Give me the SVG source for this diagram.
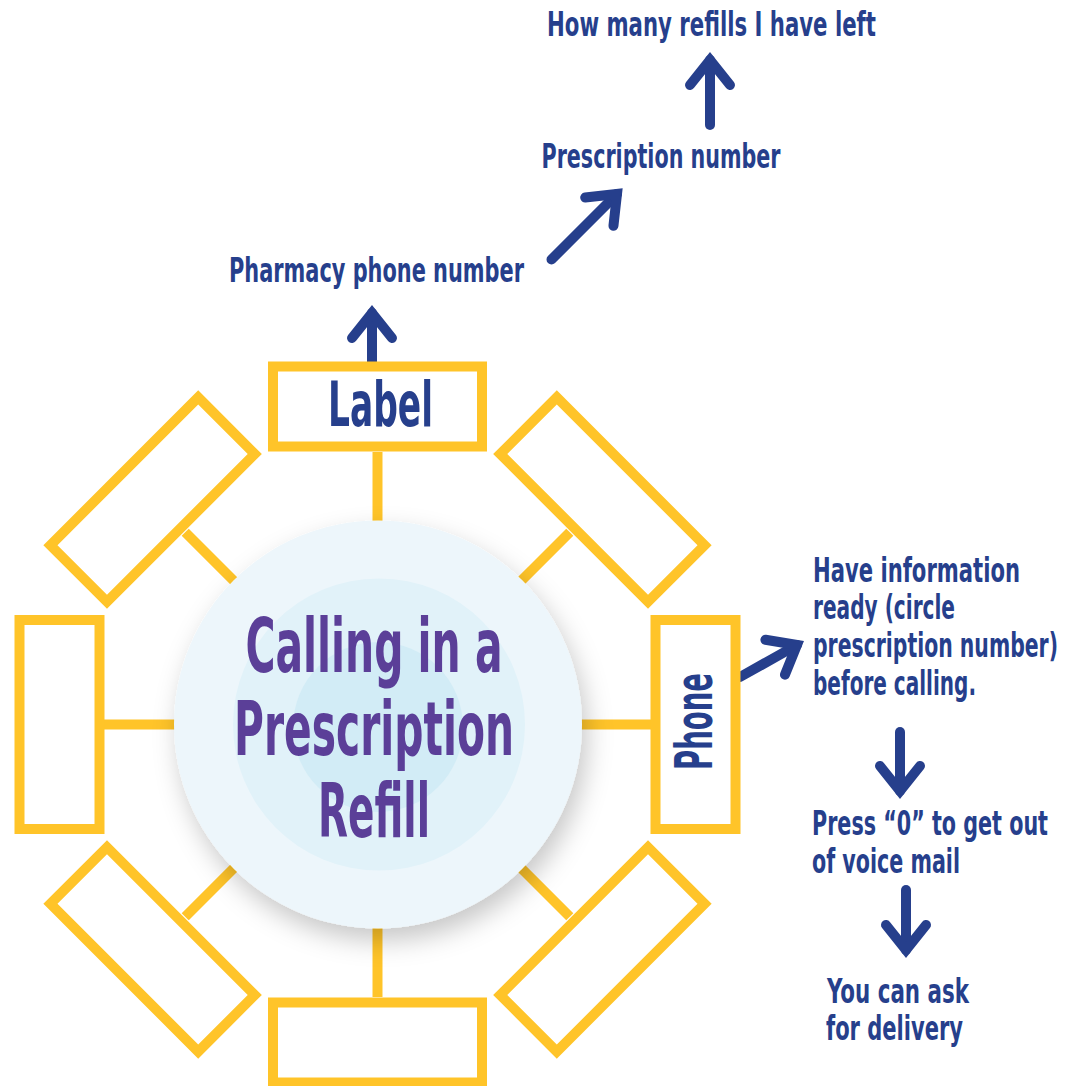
<svg xmlns="http://www.w3.org/2000/svg" width="1078" height="1086" viewBox="0 0 1078 1086">
  <style>
    .box { fill: #FFFFFF; stroke: #FFC429; stroke-width: 10; }
    .spoke { stroke: #FFC429; stroke-width: 10; fill: none; }
    .arrow { stroke: #263F8C; stroke-width: 10; fill: none; stroke-linecap: round; marker-end: url(#head); }
    .t { font-family: "Liberation Sans Narrow", "DejaVu Sans Condensed", "Liberation Sans", sans-serif; font-weight: bold; fill: #263F8C; }
    .blue { font-size: 34px; }
    .small { font-size: 24px; }
    .title { font-family: "Liberation Sans Narrow", "DejaVu Sans Condensed", "Liberation Sans", sans-serif; font-weight: bold; fill: #5B3F98; font-size: 74px; text-anchor: middle; }
  </style>
  <defs>
    <marker id="head" markerUnits="userSpaceOnUse" viewBox="-40 -30 50 60" markerWidth="50" markerHeight="60" refX="0" refY="0" orient="auto" overflow="visible">
      <path d="M -25,-20 L 0,0 L -25,20" fill="none" stroke="#263F8C" stroke-width="10" stroke-linecap="round" stroke-linejoin="miter"/>
    </marker>
    <filter id="shadow" x="-20%" y="-20%" width="150%" height="150%">
      <feDropShadow dx="5" dy="12" stdDeviation="13" flood-color="#000000" flood-opacity="0.22"/>
    </filter>
  </defs>

  <g id="connectors">
    <line class="spoke" x1="377.5" y1="530" x2="377.5" y2="452"/>
    <line class="spoke" x1="377.5" y1="919" x2="377.5" y2="997"/>
    <line class="spoke" x1="183" y1="724.5" x2="104" y2="724.5"/>
    <line class="spoke" x1="572" y1="724.5" x2="651" y2="724.5"/>
    <line class="spoke" x1="240" y1="587" x2="185.2" y2="532.2"/>
    <line class="spoke" x1="515" y1="587" x2="569.8" y2="532.2"/>
    <line class="spoke" x1="240" y1="862" x2="185.2" y2="916.8"/>
    <line class="spoke" x1="515" y1="862" x2="569.8" y2="916.8"/>
    <path class="arrow" d="M 372,362 L 372,313"/>
    <path class="arrow" d="M 551.5,259.5 L 617,194"/>
    <path class="arrow" d="M 710,125 L 710,60"/>
    <path class="arrow" d="M 740,677 L 797,645"/>
    <path class="arrow" d="M 900,732 L 900,791"/>
    <path class="arrow" d="M 906,890 L 906,950"/>
  </g>

  <g id="node-center">
    <circle cx="378" cy="724.5" r="204" fill="#EDF6FB" filter="url(#shadow)"/>
    <circle cx="379" cy="724.5" r="146" fill="#E1F2F9"/>
    <circle cx="378" cy="727" r="85" fill="#D2ECF6"/>
    <text class="title" x="374" y="672" textLength="257" lengthAdjust="spacingAndGlyphs">Calling in a</text>
    <text class="title" x="374" y="755" textLength="280" lengthAdjust="spacingAndGlyphs">Prescription</text>
    <text class="title" x="374" y="837" textLength="112" lengthAdjust="spacingAndGlyphs">Refill</text>
  </g>

  <g id="node-label" transform="translate(377.5,406.5)">
    <rect class="box" x="-104.5" y="-40" width="209" height="80"/>
    <text class="t" x="3" y="19.5" font-size="62" text-anchor="middle" textLength="105" lengthAdjust="spacingAndGlyphs">Label</text>
  </g>
  <g id="node-bottom" transform="translate(377.5,1042.5)">
    <rect class="box" x="-104.5" y="-40" width="209" height="80"/>
  </g>
  <g id="node-left" transform="translate(59.5,724.5) rotate(90)">
    <rect class="box" x="-104.5" y="-40" width="209" height="80"/>
  </g>
  <g id="node-phone" transform="translate(695.5,724.5) rotate(-90)">
    <rect class="box" x="-104.5" y="-40" width="209" height="80"/>
    <text class="t" x="3" y="16" font-size="52" text-anchor="middle" textLength="97" lengthAdjust="spacingAndGlyphs">Phone</text>
  </g>
  <g id="node-upper-left" transform="translate(152.6,499.6) rotate(-45)">
    <rect class="box" x="-104.5" y="-40" width="209" height="80"/>
  </g>
  <g id="node-upper-right" transform="translate(602.4,499.6) rotate(45)">
    <rect class="box" x="-104.5" y="-40" width="209" height="80"/>
  </g>
  <g id="node-lower-left" transform="translate(152.6,949.4) rotate(45)">
    <rect class="box" x="-104.5" y="-40" width="209" height="80"/>
  </g>
  <g id="node-lower-right" transform="translate(602.4,949.4) rotate(-45)">
    <rect class="box" x="-104.5" y="-40" width="209" height="80"/>
  </g>

  <g id="node-pharmacy">
    <text class="t blue" x="229" y="282" textLength="295" lengthAdjust="spacingAndGlyphs">Pharmacy phone number</text>
  </g>
  <g id="node-prescription">
    <text class="t blue" x="541.5" y="168" textLength="239" lengthAdjust="spacingAndGlyphs">Prescription number</text>
  </g>
  <g id="node-refills">
    <text class="t blue" x="547" y="36" textLength="329" lengthAdjust="spacingAndGlyphs">How many refills I have left</text>
  </g>
  <g id="node-info">
    <text class="t small" transform="translate(813,582) scale(1,1.4)" textLength="207" lengthAdjust="spacingAndGlyphs">Have information</text>
    <text class="t small" transform="translate(813,619) scale(1,1.4)" textLength="142" lengthAdjust="spacingAndGlyphs">ready (circle</text>
    <text class="t small" transform="translate(813,657) scale(1,1.4)" textLength="245" lengthAdjust="spacingAndGlyphs">prescription number)</text>
    <text class="t small" transform="translate(813,695) scale(1,1.4)" textLength="163" lengthAdjust="spacingAndGlyphs">before calling.</text>
  </g>
  <g id="node-press">
    <text class="t small" transform="translate(812,835) scale(1,1.4)" textLength="236" lengthAdjust="spacingAndGlyphs">Press “0” to get out</text>
    <text class="t small" transform="translate(812,873) scale(1,1.4)" textLength="148" lengthAdjust="spacingAndGlyphs">of voice mail</text>
  </g>
  <g id="node-delivery">
    <text class="t blue" x="827" y="1003" textLength="142" lengthAdjust="spacingAndGlyphs">You can ask</text>
    <text class="t blue" x="826" y="1040" textLength="137" lengthAdjust="spacingAndGlyphs">for delivery</text>
  </g>
</svg>
